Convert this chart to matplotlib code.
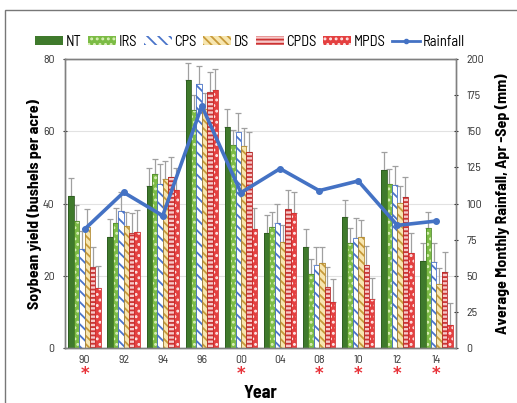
import numpy as np
import matplotlib
matplotlib.use("Agg")
import matplotlib.pyplot as plt
from matplotlib.patches import Patch, Rectangle
from matplotlib.lines import Line2D
import matplotlib.transforms as mtransforms

plt.rcParams['font.family'] = ['Barlow Semi Condensed', 'DejaVu Sans']
plt.rcParams['hatch.linewidth'] = 1.3

years = ['90', '92', '94', '96', '00', '04', '08', '10', '12', '14']
signif = ['90', '00', '08', '10', '12', '14']

NT   = [42.2, 30.7, 44.9, 74.1, 61.3, 31.8, 28.1, 36.2, 49.4, 24.2]
IRS  = [35.3, 34.6, 48.1, 65.8, 56.3, 33.5, 20.6, 29.1, 45.5, 33.2]
CPS  = [27.4, 38.1, 45.5, 73.0, 59.7, 34.7, 22.9, 30.6, 45.2, 23.8]
DS   = [33.5, 33.8, 46.8, 66.2, 56.0, 29.5, 23.5, 30.7, 40.3, 17.8]
CPDS = [22.6, 32.0, 47.5, 70.9, 54.3, 38.5, 16.9, 22.9, 41.8, 21.0]
MPDS = [16.7, 32.3, 43.8, 71.3, 32.9, 37.4, 12.9, 13.6, 26.3, 6.5]

NT_err   = [5.0, 5.0, 5.0, 4.9, 5.0, 5.1, 5.0, 4.8, 4.9, 5.0]
IRS_err  = [4.4, 4.3, 4.2, 4.2, 4.1, 4.1, 4.0, 4.1, 4.2, 4.4]
CPS_err  = [5.0, 5.0, 5.4, 5.1, 5.3, 5.2, 5.0, 5.3, 5.2, 5.3]
DS_err   = [5.1, 3.8, 4.9, 4.5, 4.8, 4.5, 4.6, 4.8, 4.6, 4.3]
CPDS_err = [5.4, 5.5, 5.4, 5.5, 5.5, 5.4, 5.5, 5.4, 5.5, 5.5]
MPDS_err = [6.1, 6.0, 6.0, 5.9, 6.0, 5.9, 6.2, 5.8, 5.7, 6.0]

rainfall = [82.3, 107.8, 91.7, 167.5, 107.6, 124.2, 109.0, 115.7, 85.0, 88.0]

# name, values, errors, face, hatch colour, hatch
series = [
    ('NT',   NT,   NT_err,   '#3f7a2c', '#3f7a2c', None),
    ('IRS',  IRS,  IRS_err,  '#7cbc45', '#d9f0b8', '...'),
    ('CPS',  CPS,  CPS_err,  'white',   '#4a74c9', '\\\\\\'),
    ('DS',   DS,   DS_err,   '#f7e6b0', '#c79a3a', '\\\\\\\\'),
    ('CPDS', CPDS, CPDS_err, '#f6c8c8', '#cc3333', '----'),
    ('MPDS', MPDS, MPDS_err, '#e44040', '#fde8e8', '...'),
]
outline = {'NT': '#2d5a1f', 'IRS': '#4f8a2a', 'CPS': '#4a74c9',
           'DS': '#b38a30', 'CPDS': '#b52a2a', 'MPDS': '#d03030'}

fig = plt.figure(figsize=(5.17, 4.03), dpi=100)
fig.patches.append(Rectangle((5 / 517, -0.1), 1.2, 1 - 10 / 403 + 0.1,
                             transform=fig.transFigure, fill=False,
                             edgecolor='#777777', linewidth=1))
ax = fig.add_axes([0.1257, 0.1357, 0.7563, 0.7179])
ax2 = ax.twinx()

x = np.arange(len(years))
w = 0.138
for i, (name, vals, errs, face, hcol, hatch) in enumerate(series):
    pos = x + (i - 2.5) * w
    ax.bar(pos, vals, w, color=face, edgecolor=hcol, hatch=hatch, linewidth=0, zorder=2)
    ax.bar(pos, vals, w, fill=False, edgecolor=outline[name], linewidth=0.6, zorder=3)
    ax.errorbar(pos, vals, yerr=[np.zeros(len(errs)), errs], fmt='none',
                ecolor='#a0a0a0', elinewidth=0.9, capsize=2.2, capthick=0.9, zorder=1)

ax2.plot(x, rainfall, color='#4472c4', linewidth=2.6, marker='o', markersize=4, zorder=5)

ax.set_xlim(-0.5, len(years) - 0.5)
ax.set_ylim(0, 80)
ax2.set_ylim(0, 200)
ax.set_yticks([0, 20, 40, 60, 80])
ax2.set_yticks(np.arange(0, 201, 25))
ax.set_xticks(x)
ax.set_xticklabels(years)
ax.yaxis.grid(True, color='#e2e2e2', linewidth=0.8, zorder=0)
ax.set_axisbelow(True)
ax.set_zorder(ax2.get_zorder() - 1)
ax.patch.set_visible(True)
ax2.patch.set_visible(False)

for a in (ax, ax2):
    for s in a.spines.values():
        s.set_color('#808080')
        s.set_linewidth(1)
    a.tick_params(labelsize=8.5, colors='#333333', length=3, width=0.8, direction='inout', pad=6)
ax.tick_params(axis='x', length=0, pad=5)

ax.set_ylabel('Soybean yield (bushels per acre)', fontsize=11.5, fontweight='bold', labelpad=1)
ax2.set_ylabel('Average Monthly Rainfall, Apr -Sep (mm)', fontsize=11.5, fontweight='bold', labelpad=8)
ax.set_xlabel('Year', fontsize=13, fontweight='bold', labelpad=14)

trans = mtransforms.blended_transform_factory(ax.transData, ax.transAxes)
for yr in signif:
    ax.text(years.index(yr), -0.088, '*', transform=trans, color='#e8333a',
            fontsize=12, ha='center', va='center', fontweight='bold', family='DejaVu Sans')

handles = []
for name, vals, errs, face, hcol, hatch in series:
    handles.append(Patch(facecolor=face, edgecolor=hcol, hatch=hatch, linewidth=0))
handles.append(Line2D([0], [0], color='#4472c4', linewidth=2, marker='o', markersize=3))
labels = [s[0] for s in series] + ['Rainfall']
fig.legend(handles, labels, loc='center', bbox_to_anchor=(0.484, 0.896), ncol=7,
           frameon=False, fontsize=10.5, handlelength=1.9, handleheight=0.6,
           handletextpad=0.2, columnspacing=0.45)

fig.savefig('out.png', dpi=100)
